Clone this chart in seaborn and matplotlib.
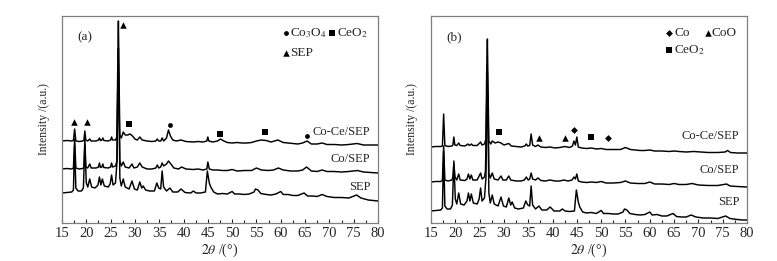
import pandas as pd
import matplotlib
matplotlib.use('Agg')
import matplotlib.pyplot as plt
from matplotlib.ticker import MultipleLocator
import seaborn as sns

# XRD traces: (2theta, intensity in a.u., stacked)
a_coce = [(15, 82), (16, 82.5), (17, 82), (17.35, 82.5), (17.6, 94), (17.85, 82), (18.5, 81.5), (19.3, 82),
          (19.5, 83), (19.7, 92), (19.9, 83), (20.3, 82), (20.7, 84), (21.0, 82), (22.0, 82), (22.5, 83),
          (22.7, 85), (22.9, 82.5), (23.2, 83), (23.4, 85), (23.6, 82.5), (24.5, 82), (25.0, 83), (25.2, 86),
          (25.4, 83), (26.0, 83), (26.3, 86), (26.45, 150), (26.6, 202), (26.75, 140), (26.9, 88), (27.2, 85),
          (27.6, 91), (28.0, 88), (28.5, 88), (29.0, 89), (29.5, 87), (30.0, 84), (30.5, 83), (31.0, 86),
          (31.5, 83), (32.5, 82), (33.5, 81.5), (34.3, 82), (34.6, 84), (34.9, 82), (35.3, 82), (35.6, 85),
          (35.9, 82), (36.5, 85), (36.9, 93), (37.3, 87), (37.8, 83), (38.5, 82), (39.5, 83), (40.5, 81.5),
          (42, 81), (43, 81.5), (44, 81), (44.8, 82), (45.0, 86), (45.2, 82), (46, 81), (47, 82), (47.6, 84),
          (48.3, 82), (49, 80.5), (50, 80), (51, 80.5), (52, 80), (53, 80), (54, 80.5), (55, 82), (56, 83),
          (57, 82.5), (58, 81), (59.4, 83), (60.5, 80.5), (61.5, 80), (62.5, 79.5), (63.5, 79), (64.5, 80),
          (65.4, 82), (66.3, 79), (67.5, 79), (68.5, 80), (69.5, 78.5), (71, 78.5), (72.5, 78), (74, 78.5),
          (75.7, 79.5), (77, 78), (78.5, 78), (80, 78)]
a_co = [(15, 54), (16, 54.5), (17, 54), (17.35, 55), (17.6, 84), (17.85, 55), (18.5, 54), (19.3, 54.5),
        (19.5, 56), (19.7, 84), (19.9, 56), (20.3, 55), (20.7, 59), (21.0, 55), (22.0, 55), (22.5, 56),
        (22.7, 60), (22.9, 55.5), (23.2, 56), (23.4, 59), (23.6, 55.5), (24.5, 55), (25.0, 56), (25.2, 60),
        (25.4, 56), (26.0, 57), (26.3, 62), (26.45, 130), (26.6, 175), (26.75, 120), (26.9, 62), (27.2, 57),
        (27.6, 61), (28.0, 56), (28.8, 55), (29.4, 59), (29.8, 55), (30.5, 56), (31.0, 60), (31.5, 56),
        (32.5, 54), (33.5, 54), (34.3, 55), (34.6, 58), (34.9, 55), (35.3, 56), (35.6, 60), (35.9, 57),
        (36.5, 59), (36.9, 62), (37.4, 59), (38, 55), (39, 54), (39.6, 56), (40.5, 54), (42, 53.5), (43, 54),
        (44, 53), (44.8, 54), (45.0, 61), (45.3, 54), (46, 53), (47, 53), (48, 52.5), (49, 52.5), (50, 53.5),
        (51, 52), (52.5, 52.5), (54, 52.5), (55, 55), (56, 53), (57.5, 52.5), (58.5, 53), (59.5, 55),
        (60.5, 53), (62, 52), (63.5, 52), (64.5, 53), (65.3, 56), (66.3, 52), (67.5, 51.5), (68.5, 53),
        (69.5, 51.5), (71, 51.5), (72.5, 51), (74, 51.5), (75.8, 52.5), (77, 51), (78.5, 50.5), (80, 50)]
a_sep = [(15, 30), (16, 30.5), (17, 31), (17.35, 33), (17.6, 78), (17.85, 35), (18.3, 32), (19.0, 32),
         (19.4, 35), (19.7, 78), (20.0, 40), (20.3, 36), (20.7, 44), (21.1, 36), (21.8, 35), (22.4, 38),
         (22.7, 46), (23.0, 38), (23.3, 44), (23.7, 37), (24.5, 36), (24.9, 39), (25.2, 48), (25.5, 38),
         (26.0, 40), (26.3, 60), (26.45, 120), (26.6, 150), (26.75, 110), (26.9, 45), (27.2, 37), (27.6, 44),
         (28.0, 36), (28.8, 34), (29.4, 42), (29.9, 34), (30.5, 33), (31.0, 41), (31.4, 35), (31.7, 37),
         (32.2, 33), (33.0, 32), (34.0, 32), (34.5, 40), (34.9, 35), (35.3, 34), (35.6, 52), (35.9, 36),
         (36.5, 32), (37.2, 35), (37.8, 31), (38.8, 31), (39.5, 34), (40.3, 30.5), (41.5, 30), (42.0, 32),
         (42.6, 30), (43.5, 30), (44.5, 31), (44.9, 52), (45.3, 40), (45.6, 36), (46.2, 31), (47.0, 29),
         (48.0, 29.5), (49.0, 29), (50.0, 31.5), (50.5, 29), (51.5, 29), (52.5, 28.5), (53.5, 29), (54.5, 31),
         (54.8, 34), (55.3, 33), (55.9, 29.5), (57, 28.5), (58, 28), (59, 29), (60, 31.5), (60.5, 28.5),
         (61.5, 28.5), (62.5, 27.5), (63.5, 27.5), (64.8, 30), (65.5, 27), (66.5, 27), (67.5, 26.5),
         (68.5, 28.5), (69.5, 26.5), (71, 25.5), (72.5, 25.5), (74, 25), (75.6, 28), (76.5, 25), (78, 23),
         (79, 22.5), (80, 22)]

b_coce = [(15, 76), (16, 76.5), (17.0, 76.5), (17.35, 77), (17.6, 109), (17.85, 77.5), (18.5, 76.5), (19.3, 77),
          (19.5, 78), (19.7, 86), (19.9, 78), (20.3, 77.5), (20.7, 80), (21.0, 77.5), (22.0, 77), (22.6, 79),
          (22.9, 77.5), (23.3, 79), (23.6, 77.5), (24.5, 77.5), (25.2, 81), (25.5, 78), (26.0, 79), (26.3, 84),
          (26.45, 150), (26.6, 184), (26.75, 130), (26.9, 82), (27.3, 79), (27.6, 82), (28.2, 80), (28.8, 81),
          (29.4, 80), (30.0, 78), (31.0, 79.5), (31.5, 77), (32.5, 76.5), (33.5, 76), (34.3, 77), (34.6, 79),
          (34.9, 77), (35.3, 77.5), (35.6, 89), (35.9, 78), (36.5, 76.5), (37.0, 78), (37.6, 76), (38.5, 75.5),
          (39.5, 76), (40.5, 75), (41.5, 75.5), (42.5, 76.5), (43.5, 75.5), (44.1, 77), (44.4, 82), (44.7, 78),
          (45.0, 86), (45.3, 76), (46, 75), (47, 74.5), (48, 75), (49, 74), (50, 74.5), (51, 73.5), (52, 73.5),
          (53, 73.5), (54, 73.5), (55, 75.5), (56, 73.5), (57, 73), (58, 72.5), (59, 72.5), (60, 73), (61, 72),
          (62.5, 72), (64, 71.5), (65, 72), (66, 71.5), (67.5, 71), (69, 71.5), (70.5, 71), (72, 70.5),
          (74, 70.5), (75.5, 71), (76, 72.5), (76.6, 70.5), (78, 70), (80, 70)]
b_co = [(15, 41), (16, 41.5), (17.0, 41.5), (17.35, 42.5), (17.6, 77), (17.85, 43), (18.5, 42), (19.3, 43),
        (19.5, 46), (19.7, 59), (19.95, 46), (20.3, 43), (20.7, 49), (21.0, 43), (22.0, 42.5), (22.4, 44),
        (22.7, 49), (23.0, 44), (23.3, 48), (23.6, 43), (24.5, 43), (25.2, 50), (25.5, 44), (26.0, 46),
        (26.2, 52), (26.45, 120), (26.6, 150), (26.75, 110), (26.9, 50), (27.2, 45), (27.6, 50), (28.0, 44),
        (28.8, 43), (29.4, 47), (29.8, 43), (30.5, 43), (31.0, 47), (31.4, 43), (32.5, 42), (33.5, 42),
        (34.2, 43), (34.6, 46), (35.0, 43), (35.3, 44), (35.6, 50), (35.9, 44), (36.5, 43), (37.0, 45),
        (37.6, 42.5), (38.5, 42), (39.5, 43), (40.5, 42), (41.5, 42), (42.3, 43), (43.2, 42), (44.0, 43),
        (44.4, 46), (44.7, 44), (45.0, 49), (45.3, 42), (46, 41), (47, 40.5), (48, 41), (49, 40.5),
        (50, 41.5), (51, 40), (52.5, 40), (54, 40.5), (55, 42), (56, 40), (57.5, 39.5), (59, 39.5), (60, 41),
        (61, 39), (62.5, 39), (64, 38.5), (65, 39.5), (66, 38.5), (67.5, 38.5), (68.7, 39.5), (70, 38),
        (72, 37.5), (74, 37.5), (75.8, 39), (76.5, 37), (78, 36.5), (80, 36)]
b_sep = [(15, 12), (16, 12.5), (17.0, 13), (17.35, 15), (17.6, 72), (17.85, 17), (18.3, 14), (19.0, 14),
         (19.4, 18), (19.7, 62), (20.0, 24), (20.3, 19), (20.7, 30), (21.1, 19), (21.8, 18), (22.4, 22),
         (22.7, 30), (23.0, 22), (23.3, 29), (23.7, 20), (24.5, 19), (24.9, 24), (25.2, 35), (25.5, 22),
         (26.0, 25), (26.3, 45), (26.45, 100), (26.6, 130), (26.75, 95), (26.9, 30), (27.2, 20), (27.6, 28),
         (28.0, 19), (28.8, 17), (29.4, 26), (29.9, 17), (30.5, 16), (31.0, 25), (31.4, 18), (31.7, 21),
         (32.2, 15), (33.0, 14), (34.0, 15), (34.5, 22), (34.9, 18), (35.3, 17), (35.6, 37), (35.9, 18),
         (36.5, 14), (37.2, 17), (37.8, 13), (38.8, 13), (39.5, 16), (40.3, 12), (41.5, 12), (42.0, 14),
         (42.6, 12), (43.5, 11.5), (44.5, 12), (44.9, 33), (45.3, 21), (45.6, 16), (46.2, 11), (47.0, 10),
         (48.0, 10.5), (49.0, 9.5), (50.0, 12.5), (50.5, 9.5), (51.5, 9.5), (52.5, 9), (53.5, 9), (54.5, 11),
         (54.8, 14), (55.3, 13), (55.9, 9.5), (57, 8.5), (58, 8), (59, 8.5), (60, 11), (60.5, 8), (61.5, 8.5),
         (62.5, 7), (63.5, 7), (64.8, 9.5), (65.5, 6.5), (66.5, 6), (67.5, 6), (68.5, 8), (69.5, 6), (71, 5),
         (72.5, 5), (74, 4.5), (75.6, 7), (76.5, 4.5), (78, 3.5), (79, 3), (80, 3)]

sample_names = ['Co-Ce/SEP', 'Co/SEP', 'SEP']

# phase markers above peaks: (2theta, height, marker)
a_marks = [(17.4, 101, '^'), (20.1, 101, '^'), (27.5, 198, '^'), (28.7, 99, 's'), (37.2, 98, 'o'),
           (47.6, 89, 's'), (56.8, 91, 's'), (65.4, 87, 'o')]
b_marks = [(29.0, 91, 's'), (37.2, 85, '^'), (42.5, 85, '^'), (44.4, 93, 'D'), (48.0, 86, 's'),
           (51.5, 85, 'D')]

sns.set_style('white')
plt.rcParams['font.family'] = ['Liberation Serif', 'DejaVu Sans']
plt.rcParams['mathtext.fontset'] = 'stix'

fig = plt.figure(figsize=(7.77, 2.61), dpi=100)
ax_a = fig.add_axes([62 / 777, 38 / 261, 316 / 777, 207 / 261])
ax_b = fig.add_axes([431 / 777, 38 / 261, 316 / 777, 207 / 261])

marker_size = {'^': 22, 's': 18, 'o': 12, 'D': 12}


def draw_panel(ax, traces, marks, label_y, tag):
    for trace in traces:
        df = pd.DataFrame(trace, columns=['two_theta', 'intensity'])
        sns.lineplot(data=df, x='two_theta', y='intensity', ax=ax, color='black',
                     lw=1.05, estimator=None, sort=False)
    for x, y, m in marks:
        ax.scatter([x], [y], marker=m, s=marker_size[m], color='black', lw=0, zorder=3)
    for name, y in zip(sample_names, label_y):
        ax.text(78.4, y, name, ha='right', va='center', fontsize=9)
    ax.text(18.2, 186, tag, ha='left', va='center', fontsize=9.5)

    ax.set_xlim(15, 80)
    ax.set_ylim(0, 207)
    ax.set_yticks([])
    ax.xaxis.set_major_locator(MultipleLocator(5))
    ax.xaxis.set_minor_locator(MultipleLocator(2.5))
    ax.tick_params(axis='x', which='major', direction='in', length=3, width=0.8,
                   labelsize=10.5, pad=3, bottom=True)
    ax.tick_params(axis='x', which='minor', direction='in', length=2, width=0.8, bottom=True)
    for sp in ax.spines.values():
        sp.set_color('#7f7f7f')
        sp.set_linewidth(0.9)
    ax.set_xlabel(r'$\mathit{2\theta}$ /(°)', fontsize=10, labelpad=1)
    ax.set_ylabel('Intensity /(a.u.)', fontsize=8.5, labelpad=9)


draw_panel(ax_a, [a_coce, a_co, a_sep], a_marks, [91, 64, 36], '(a)')
draw_panel(ax_b, [b_coce, b_co, b_sep], b_marks, [87, 53, 21], '(b)')

# phase legends
ax_a.scatter([61.0], [190], marker='o', s=12, color='black', lw=0)
ax_a.text(62.0, 190, r'Co$_3$O$_4$', ha='left', va='center', fontsize=9.5)
ax_a.scatter([70.5], [190], marker='s', s=18, color='black', lw=0)
ax_a.text(71.6, 190, r'CeO$_2$', ha='left', va='center', fontsize=9.5)
ax_a.scatter([61.0], [170], marker='^', s=22, color='black', lw=0)
ax_a.text(62.0, 170, 'SEP', ha='left', va='center', fontsize=9.5)

ax_b.scatter([64.0], [190], marker='D', s=12, color='black', lw=0)
ax_b.text(65.0, 190, 'Co', ha='left', va='center', fontsize=9.5)
ax_b.scatter([71.9], [190], marker='^', s=22, color='black', lw=0)
ax_b.text(72.7, 190, 'CoO', ha='left', va='center', fontsize=9.5)
ax_b.scatter([64.0], [173], marker='s', s=18, color='black', lw=0)
ax_b.text(65.0, 173, r'CeO$_2$', ha='left', va='center', fontsize=9.5)

fig.savefig('out.png', dpi=100)
plt.close()
